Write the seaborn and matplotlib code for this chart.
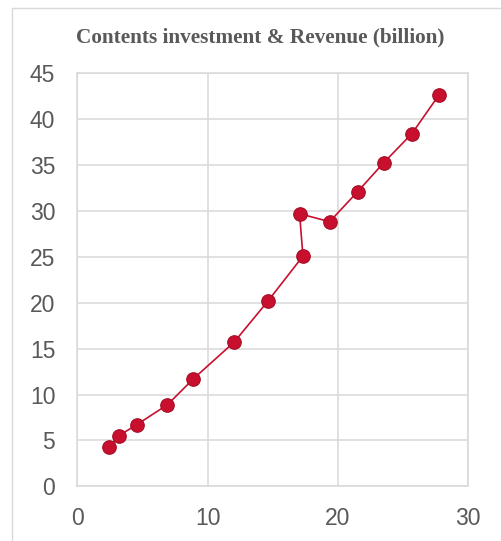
import matplotlib
matplotlib.use("Agg")
import matplotlib.pyplot as plt
from matplotlib.lines import Line2D
import seaborn as sns
import pandas as pd

# data (order matters: the line is not sorted)
investment = [2.45, 3.17, 4.55, 6.91, 8.91, 12.04, 14.63, 17.32, 17.06, 19.37, 21.52, 23.52, 25.68, 27.78]
revenue = [4.28, 5.51, 6.71, 8.89, 11.72, 15.72, 20.18, 25.08, 29.7, 28.83, 32.1, 35.25, 38.41, 42.66]
x_ticks = [0, 10, 20, 30]
y_ticks = [0, 5, 10, 15, 20, 25, 30, 35, 40, 45]
title = "Contents investment & Revenue (billion)"

df = pd.DataFrame({"investment": investment, "revenue": revenue})

sns.set_style("white")
plt.rcParams["font.family"] = ["Liberation Sans", "DejaVu Sans"]

red = "#C8102E"
grid_c = "#D9D9D9"
text_c = "#595959"

fig = plt.figure(figsize=(5.02, 5.41), dpi=100)
ax = fig.add_axes([77.5 / 502, 1 - 486.3 / 541, (468 - 77.5) / 502, (486.3 - 73.3) / 541])

sns.lineplot(data=df, x="investment", y="revenue", sort=False, color=red,
             linewidth=1.2, ax=ax, zorder=2)
sns.scatterplot(data=df, x="investment", y="revenue", color=red, s=95,
                edgecolor="#A50D25", linewidth=0.8, ax=ax, zorder=3)

ax.set_xlim(0, 30)
ax.set_ylim(0, 45)
ax.set_xticks(x_ticks)
ax.set_yticks(y_ticks)
ax.grid(True, color=grid_c, linewidth=1.1)
ax.set_axisbelow(True)
for s in ax.spines.values():
    s.set_color(grid_c)
    s.set_linewidth(1.1)
ax.tick_params(axis="both", length=0, labelsize=16.5, labelcolor=text_c)
ax.tick_params(axis="y", pad=16)
ax.tick_params(axis="x", pad=15)
ax.set_xlabel("")
ax.set_ylabel("")

fig.text(260 / 502, 1 - 37 / 541, title, ha="center", va="center",
         fontsize=15.3, fontweight="bold", color=text_c,
         family=["Liberation Serif", "DejaVu Serif"])

# partial chart-area border (top and left)
fig.add_artist(Line2D([12 / 502, 1], [1 - 8 / 541, 1 - 8 / 541], color=grid_c, linewidth=1.0))
fig.add_artist(Line2D([12 / 502, 12 / 502], [0, 1 - 8 / 541], color=grid_c, linewidth=1.0))

fig.savefig("out.png", dpi=100)
